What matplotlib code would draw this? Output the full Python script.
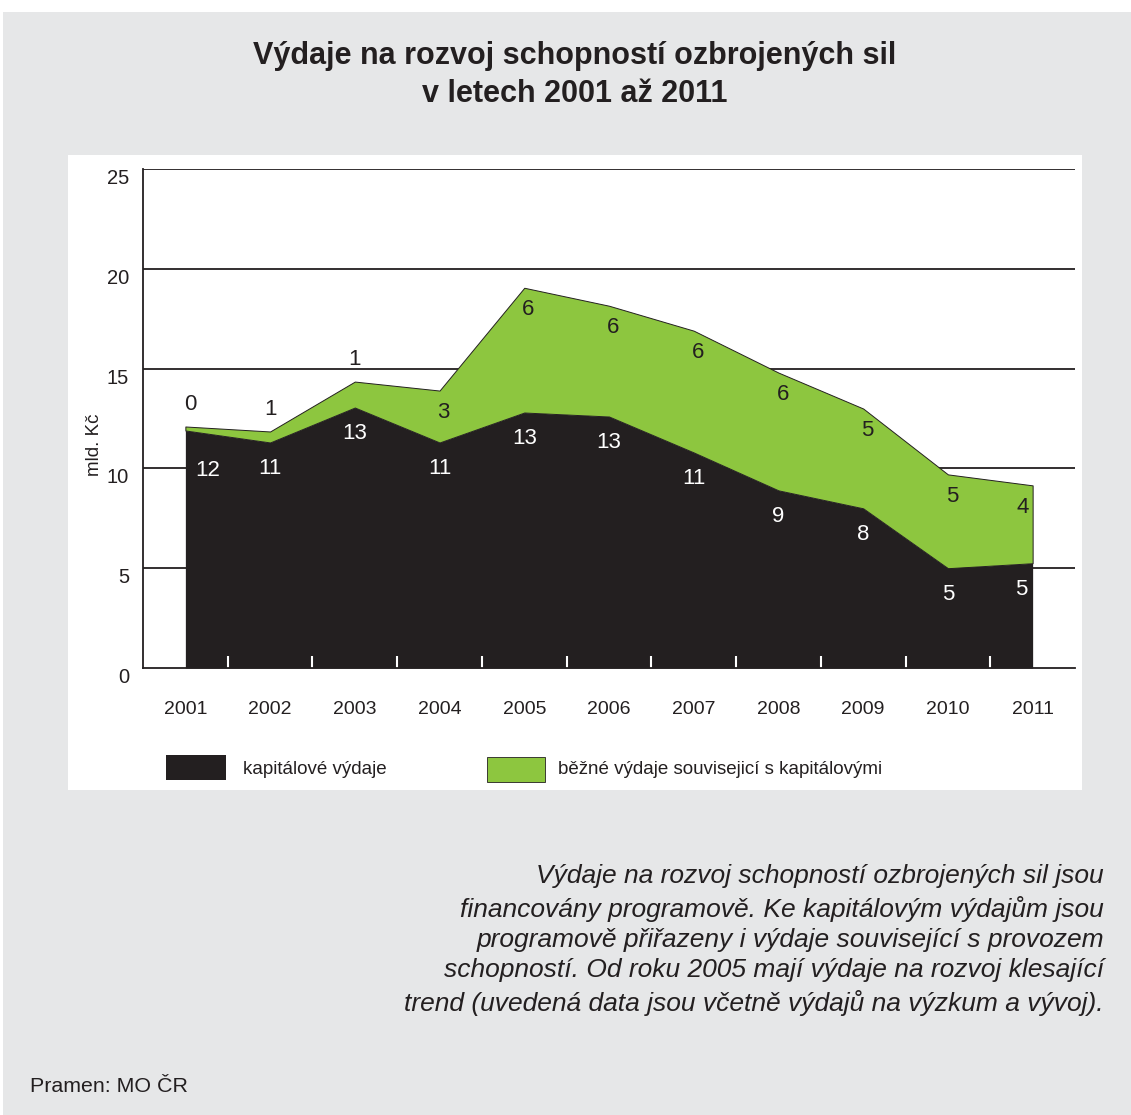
import numpy as np
import matplotlib.pyplot as plt
from matplotlib.patches import Rectangle

plt.rcParams['font.family'] = ['Liberation Sans', 'DejaVu Sans']

# data (mld. Kč)
years = [2001, 2002, 2003, 2004, 2005, 2006, 2007, 2008, 2009, 2010, 2011]
kapitalove = [11.9, 11.3, 13.05, 11.3, 12.8, 12.6, 10.8, 8.9, 8.0, 5.0, 5.25]
bezne = [0.2, 0.55, 1.3, 2.6, 6.25, 5.55, 6.1, 5.9, 5.0, 4.7, 3.9]
yticks = [0, 5, 10, 15, 20, 25]

BLACK = '#231f20'
GREEN = '#8dc63f'
GRAY = '#e6e7e8'

cap = np.array(kapitalove)
total = cap + np.array(bezne)

W, H = 1131, 1115
fig = plt.figure(figsize=(W / 100, H / 100), dpi=100)
fig.patch.set_facecolor('white')
fig.patches.append(Rectangle((3 / W, 0), 1 - 3 / W, (H - 12) / H, transform=fig.transFigure,
                             facecolor=GRAY, edgecolor='none', zorder=-2))
fig.patches.append(Rectangle((68 / W, (H - 790) / H), 1014 / W, 635 / H, transform=fig.transFigure,
                             facecolor='white', edgecolor='none', zorder=-1))

ax = fig.add_axes([143 / W, (H - 668) / H, 932 / W, 499 / H])
ax.patch.set_alpha(0)

for y in yticks[1:]:
    ax.axhline(y, color=BLACK, lw=1.3, zorder=0.5)

ax.fill_between(years, 0, cap, color=BLACK, lw=0, zorder=1)
ax.fill_between(years, cap, total, facecolor=GREEN, edgecolor=BLACK, lw=0.7, zorder=1.2)

ax.set_xlim(2000.5, 2011.5)
ax.set_ylim(0, 25)

for s in ['top', 'right']:
    ax.spines[s].set_visible(False)
for s in ['left', 'bottom']:
    ax.spines[s].set_color(BLACK)
    ax.spines[s].set_linewidth(1.3)

ax.set_yticks(yticks)
ax.tick_params(axis='y', length=0, pad=10, labelsize=14.5, colors=BLACK)
for lbl in ax.get_yticklabels():
    lbl.set_va('top')

ax.set_xticks(years)
ax.set_xticklabels([str(y) for y in years])
ax.set_xticks([y + 0.5 for y in years], minor=True)
ax.tick_params(axis='x', which='major', length=0, pad=24, labelsize=14, colors=BLACK)
ax.tick_params(axis='x', which='minor', direction='in', length=8.6, width=1.5, color='white')
ax.xaxis.get_minor_ticks()[-1].tick1line.set_color(BLACK)

ax.set_ylabel('mld. Kč', fontsize=13.5, color=BLACK)
ax.yaxis.set_label_coords(-0.043, 0.447)

# value labels
for i, yr in enumerate(years):
    dx = 0.26 if i == 0 else (-0.13 if i == len(years) - 1 else 0)
    dy = 2.0 if i == 0 else 1.3
    ax.text(yr + dx, cap[i] - dy, f'{kapitalove[i]:.0f}', color='white', fontsize=16,
            ha='center', va='center', zorder=3)
    if bezne[i] < 2:
        gx, gy = yr + (0.06 if i == 0 else 0), total[i] + 1.1
    else:
        gx, gy = yr + (-0.12 if i == len(years) - 1 else 0.05), total[i] - 1.1
    ax.text(gx, gy, f'{bezne[i]:.0f}', color=BLACK, fontsize=16, ha='center', va='center', zorder=3)

fig.text(575 / W, 1 - 75 / H, 'Výdaje na rozvoj schopností ozbrojených sil\nv letech 2001 až 2011',
         ha='center', va='center', fontsize=22, fontweight='bold', color=BLACK, linespacing=1.35)

# legend
fig.patches.append(Rectangle((166 / W, (H - 780) / H), 60 / W, 25 / H, transform=fig.transFigure,
                             facecolor=BLACK, edgecolor='none'))
fig.text(243 / W, 1 - 770 / H, 'kapitálové výdaje', ha='left', va='center', fontsize=13.5, color=BLACK)
fig.patches.append(Rectangle((487 / W, (H - 782) / H), 58 / W, 25 / H, transform=fig.transFigure,
                             facecolor=GREEN, edgecolor=BLACK, lw=0.6))
fig.text(558 / W, 1 - 770 / H, 'běžné výdaje souvisejicí s kapitálovými', ha='left', va='center',
         fontsize=13.5, color=BLACK)

note = ('Výdaje na rozvoj schopností ozbrojených sil jsou\n'
        'financovány programově. Ke kapitálovým výdajům jsou\n'
        'programově přiřazeny i výdaje související s provozem\n'
        'schopností. Od roku 2005 mají výdaje na rozvoj klesající\n'
        'trend (uvedená data jsou včetně výdajů na výzkum a vývoj).')
fig.text(1104 / W, 1 - 940 / H, note, ha='right', va='center', fontsize=19, style='italic',
         color=BLACK, linespacing=1.34)

fig.text(30 / W, 1 - 1087 / H, 'Pramen: MO ČR', ha='left', va='center', fontsize=15.4, color=BLACK)

fig.savefig('out.png', dpi=100)
